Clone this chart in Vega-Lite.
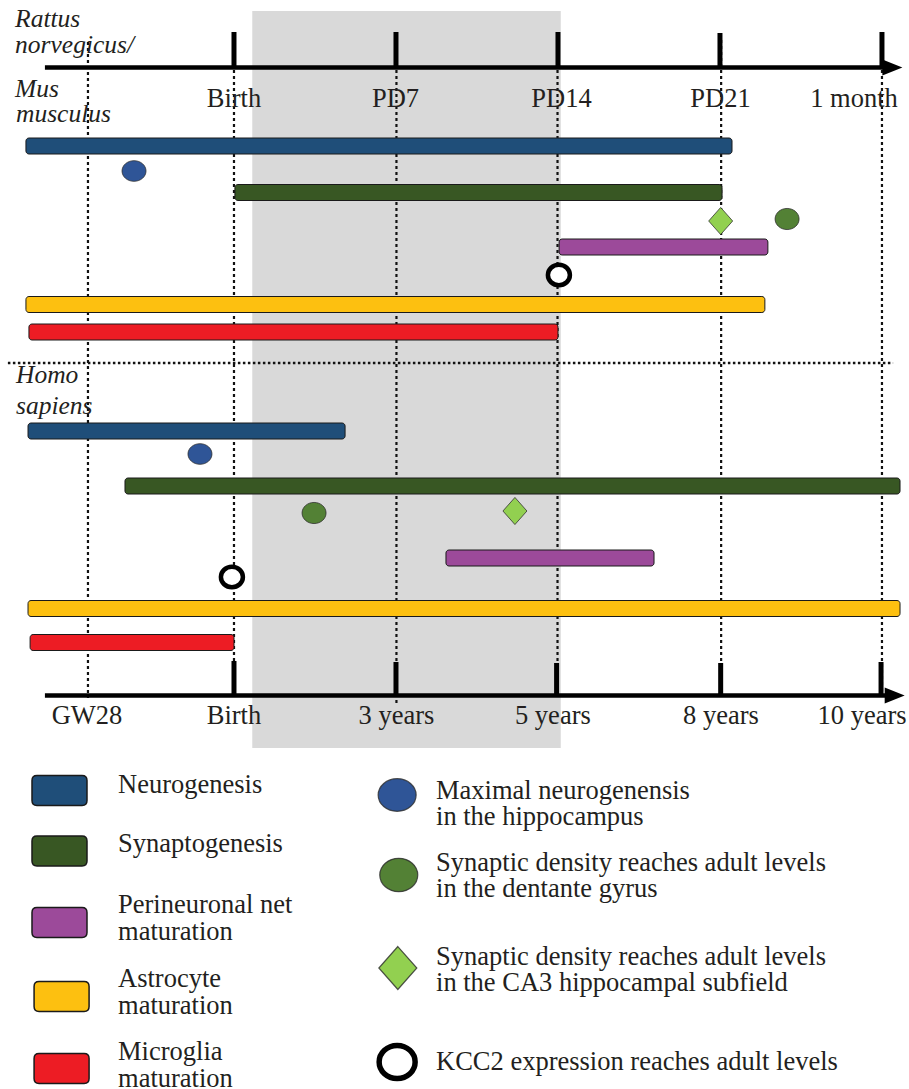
{
  "$schema": "https://vega.github.io/schema/vega-lite/v6.json",
  "width": 909,
  "height": 1089,
  "autosize": "none",
  "padding": 0,
  "background": "white",
  "config": {"view": {"stroke": null}, "scale": {"continuousPadding": 0}},
  "datasets": {
    "band": [{"start": 0.79, "end": 14.12, "top": 11, "bottom": 748}],
    "guides": [
      {"t": -6.31, "top": 42, "bottom": 698},
      {"t": 0, "top": 40, "bottom": 698},
      {"t": 7.02, "top": 40, "bottom": 703},
      {"t": 13.98, "top": 40, "bottom": 698},
      {"t": 21.05, "top": 40, "bottom": 698},
      {"t": 28.0, "top": 40, "bottom": 698}
    ],
    "divider": [{"start": -9.77, "end": 28.48, "row": 363}],
    "axes": [
      {"axis": "Rattus/Mus", "start": -8.17, "end": 28.2, "row": 67.5, "arrowT": 28.45},
      {"axis": "Homo", "start": -8.17, "end": 28.3, "row": 695.5, "arrowT": 28.55}
    ],
    "ticks": [
      {"axis": "Rattus/Mus", "tick": true, "t": 0, "labelT": 0, "label": "Birth", "tickTop": 32, "axisRow": 67.5, "labelRow": 107},
      {"axis": "Rattus/Mus", "tick": true, "t": 7, "labelT": 6.98, "label": "PD7", "tickTop": 32, "axisRow": 67.5, "labelRow": 107},
      {"axis": "Rattus/Mus", "tick": true, "t": 14, "labelT": 14.15, "label": "PD14", "tickTop": 32, "axisRow": 67.5, "labelRow": 107},
      {"axis": "Rattus/Mus", "tick": true, "t": 21, "labelT": 21.02, "label": "PD21", "tickTop": 33, "axisRow": 67.5, "labelRow": 107},
      {"axis": "Rattus/Mus", "tick": true, "t": 28, "labelT": 26.79, "label": "1 month", "tickTop": 32, "axisRow": 67.5, "labelRow": 107},
      {"axis": "Homo", "tick": false, "t": -6.31, "labelT": -6.35, "label": "GW28", "tickTop": 661, "axisRow": 695.5, "labelRow": 724},
      {"axis": "Homo", "tick": true, "t": 0, "labelT": 0, "label": "Birth", "tickTop": 661, "axisRow": 695.5, "labelRow": 724},
      {"axis": "Homo", "tick": true, "t": 7, "labelT": 7.02, "label": "3 years", "tickTop": 662, "axisRow": 695.5, "labelRow": 724},
      {"axis": "Homo", "tick": true, "t": 13.94, "labelT": 13.78, "label": "5 years", "tickTop": 663, "axisRow": 695.5, "labelRow": 724},
      {"axis": "Homo", "tick": true, "t": 21.03, "labelT": 21.04, "label": "8 years", "tickTop": 663, "axisRow": 695.5, "labelRow": 724},
      {"axis": "Homo", "tick": true, "t": 27.96, "labelT": 27.14, "label": "10 years", "tickTop": 662, "axisRow": 695.5, "labelRow": 724}
    ],
    "species": [
      {"text": "Rattus", "t": -9.46, "row": 27},
      {"text": "norvegicus/", "t": -9.46, "row": 53},
      {"text": "Mus", "t": -9.46, "row": 97},
      {"text": "musculus", "t": -9.42, "row": 122},
      {"text": "Homo", "t": -9.42, "row": 383},
      {"text": "sapiens", "t": -9.42, "row": 414}
    ],
    "bars": [
      {"species": "Mus", "process": "Neurogenesis", "start": -8.99, "end": 21.52, "row": 146},
      {"species": "Mus", "process": "Synaptogenesis", "start": 0.04, "end": 21.09, "row": 192.5},
      {"species": "Mus", "process": "Perineuronal net maturation", "start": 14.05, "end": 23.07, "row": 247},
      {"species": "Mus", "process": "Astrocyte maturation", "start": -8.99, "end": 22.94, "row": 304.5},
      {"species": "Mus", "process": "Microglia maturation", "start": -8.86, "end": 14.0, "row": 332},
      {"species": "Homo", "process": "Neurogenesis", "start": -8.9, "end": 4.8, "row": 431},
      {"species": "Homo", "process": "Synaptogenesis", "start": -4.71, "end": 28.78, "row": 486},
      {"species": "Homo", "process": "Perineuronal net maturation", "start": 9.16, "end": 18.15, "row": 558},
      {"species": "Homo", "process": "Astrocyte maturation", "start": -8.9, "end": 28.78, "row": 608.5},
      {"species": "Homo", "process": "Microglia maturation", "start": -8.81, "end": 0.0, "row": 642.5}
    ],
    "events": [
      {"species": "Mus", "event": "Maximal neurogenesis", "t": -4.32, "row": 171},
      {"species": "Mus", "event": "Synaptic density DG", "t": 23.9, "row": 219},
      {"species": "Mus", "event": "Synaptic density CA3", "t": 21.03, "row": 221},
      {"species": "Mus", "event": "KCC2", "t": 14.04, "row": 275},
      {"species": "Homo", "event": "Maximal neurogenesis", "t": -1.47, "row": 454},
      {"species": "Homo", "event": "Synaptic density DG", "t": 3.46, "row": 513},
      {"species": "Homo", "event": "Synaptic density CA3", "t": 12.14, "row": 511},
      {"species": "Homo", "event": "KCC2", "t": -0.09, "row": 577}
    ],
    "legendBars": [
      {"process": "Neurogenesis", "t": -7.54, "labelT": -5.01, "row": 790.5, "labelRow": 793, "label": "Neurogenesis"},
      {"process": "Synaptogenesis", "t": -7.54, "labelT": -5.01, "row": 851, "labelRow": 852, "label": "Synaptogenesis"},
      {"process": "Perineuronal net maturation", "t": -7.54, "labelT": -5.01, "row": 922.5, "labelRow": 913, "label": "Perineuronal net\nmaturation"},
      {"process": "Astrocyte maturation", "t": -7.45, "labelT": -5.01, "row": 996.5, "labelRow": 987, "label": "Astrocyte\nmaturation"},
      {"process": "Microglia maturation", "t": -7.45, "labelT": -5.01, "row": 1068.5, "labelRow": 1060, "label": "Microglia\nmaturation"}
    ],
    "legendEvents": [
      {"event": "Maximal neurogenesis", "t": 7.05, "labelT": 8.73, "row": 795, "labelRow": 799, "label": "Maximal neurogenensis\nin the hippocampus"},
      {"event": "Synaptic density DG", "t": 7.12, "labelT": 8.73, "row": 875, "labelRow": 871, "label": "Synaptic density reaches adult levels\nin the dentante gyrus"},
      {"event": "Synaptic density CA3", "t": 7.08, "labelT": 8.73, "row": 968, "labelRow": 965, "label": "Synaptic density reaches adult levels\nin the CA3 hippocampal subfield"},
      {"event": "KCC2", "t": 7.05, "labelT": 8.73, "row": 1062, "labelRow": 1070, "label": "KCC2 expression reaches adult levels"}
    ]
  },
  "layer": [
    {
      "data": {"name": "band"},
      "mark": {"type": "rect", "color": "#D9D9D9"},
      "encoding": {
        "x": {"field": "start", "type": "quantitative", "scale": {"domain": [-10.111, 29.168], "nice": false, "zero": false, "padding": 0}, "axis": null},
        "x2": {"field": "end"},
        "y": {"field": "top", "type": "quantitative", "scale": {"domain": [0, 1089], "nice": false, "zero": false, "reverse": true, "padding": 0}, "axis": null},
        "y2": {"field": "bottom"}
      }
    },
    {
      "data": {"name": "guides"},
      "mark": {"type": "rule", "color": "#111111", "strokeWidth": 2.2, "strokeDash": [3, 3]},
      "encoding": {
        "x": {"field": "t", "type": "quantitative", "scale": {"domain": [-10.111, 29.168], "nice": false, "zero": false, "padding": 0}, "axis": null},
        "y": {"field": "top", "type": "quantitative", "scale": {"domain": [0, 1089], "nice": false, "zero": false, "reverse": true, "padding": 0}, "axis": null},
        "y2": {"field": "bottom"}
      }
    },
    {
      "data": {"name": "divider"},
      "mark": {"type": "rule", "color": "#111111", "strokeWidth": 2.5, "strokeDash": [2.5, 2.5]},
      "encoding": {
        "x": {"field": "start", "type": "quantitative", "scale": {"domain": [-10.111, 29.168], "nice": false, "zero": false, "padding": 0}, "axis": null},
        "x2": {"field": "end"},
        "y": {"field": "row", "type": "quantitative", "scale": {"domain": [0, 1089], "nice": false, "zero": false, "reverse": true, "padding": 0}, "axis": null}
      }
    },
    {
      "data": {"name": "axes"},
      "mark": {"type": "rule", "color": "#000000", "strokeWidth": 4.5},
      "encoding": {
        "x": {"field": "start", "type": "quantitative", "scale": {"domain": [-10.111, 29.168], "nice": false, "zero": false, "padding": 0}, "axis": null},
        "x2": {"field": "end"},
        "y": {"field": "row", "type": "quantitative", "scale": {"domain": [0, 1089], "nice": false, "zero": false, "reverse": true, "padding": 0}, "axis": null}
      }
    },
    {
      "data": {"name": "ticks"},
      "transform": [{"filter": "datum.tick"}],
      "mark": {"type": "rule", "color": "#000000", "strokeWidth": 5},
      "encoding": {
        "x": {"field": "t", "type": "quantitative", "scale": {"domain": [-10.111, 29.168], "nice": false, "zero": false, "padding": 0}, "axis": null},
        "y": {"field": "tickTop", "type": "quantitative", "scale": {"domain": [0, 1089], "nice": false, "zero": false, "reverse": true, "padding": 0}, "axis": null},
        "y2": {"field": "axisRow"}
      }
    },
    {
      "data": {"name": "axes"},
      "mark": {"type": "point", "shape": "M-1,-0.8L1,0L-1,0.8Z", "filled": true, "color": "#000000", "opacity": 1, "size": 400},
      "encoding": {
        "x": {"field": "arrowT", "type": "quantitative", "scale": {"domain": [-10.111, 29.168], "nice": false, "zero": false, "padding": 0}, "axis": null},
        "y": {"field": "row", "type": "quantitative", "scale": {"domain": [0, 1089], "nice": false, "zero": false, "reverse": true, "padding": 0}, "axis": null}
      }
    },
    {
      "data": {"name": "ticks"},
      "mark": {"type": "text", "font": "Liberation Serif", "fontSize": 26.5, "color": "#231F20", "align": "center", "baseline": "alphabetic"},
      "encoding": {
        "x": {"field": "labelT", "type": "quantitative", "scale": {"domain": [-10.111, 29.168], "nice": false, "zero": false, "padding": 0}, "axis": null},
        "y": {"field": "labelRow", "type": "quantitative", "scale": {"domain": [0, 1089], "nice": false, "zero": false, "reverse": true, "padding": 0}, "axis": null},
        "text": {"field": "label", "type": "nominal"}
      }
    },
    {
      "data": {"name": "species"},
      "mark": {"type": "text", "font": "Liberation Serif", "fontStyle": "italic", "fontSize": 25.5, "color": "#231F20", "align": "left", "baseline": "alphabetic"},
      "encoding": {
        "x": {"field": "t", "type": "quantitative", "scale": {"domain": [-10.111, 29.168], "nice": false, "zero": false, "padding": 0}, "axis": null},
        "y": {"field": "row", "type": "quantitative", "scale": {"domain": [0, 1089], "nice": false, "zero": false, "reverse": true, "padding": 0}, "axis": null},
        "text": {"field": "text", "type": "nominal"}
      }
    },
    {
      "data": {"name": "bars"},
      "mark": {"type": "bar", "size": 16, "cornerRadius": 3, "stroke": "#1A1A1A", "strokeWidth": 1},
      "encoding": {
        "x": {"field": "start", "type": "quantitative", "scale": {"domain": [-10.111, 29.168], "nice": false, "zero": false, "padding": 0}, "axis": null},
        "x2": {"field": "end"},
        "y": {"field": "row", "type": "quantitative", "scale": {"domain": [0, 1089], "nice": false, "zero": false, "reverse": true, "padding": 0}, "axis": null},
        "color": {"field": "process", "type": "nominal", "legend": null, "scale": {"domain": ["Neurogenesis", "Synaptogenesis", "Perineuronal net maturation", "Astrocyte maturation", "Microglia maturation"], "range": ["#1F4E79", "#385723", "#9C4A9A", "#FDC010", "#ED1C24"]}}
      }
    },
    {
      "data": {"name": "events"},
      "transform": [{"filter": "datum.event !== 'KCC2'"}],
      "mark": {"type": "point", "filled": true, "opacity": 1, "size": 576, "stroke": "#2A2A2A", "strokeWidth": 1, "strokeOpacity": 0.75},
      "encoding": {
        "x": {"field": "t", "type": "quantitative", "scale": {"domain": [-10.111, 29.168], "nice": false, "zero": false, "padding": 0}, "axis": null},
        "y": {"field": "row", "type": "quantitative", "scale": {"domain": [0, 1089], "nice": false, "zero": false, "reverse": true, "padding": 0}, "axis": null},
        "fill": {"field": "event", "type": "nominal", "legend": null, "scale": {"domain": ["Maximal neurogenesis", "Synaptic density DG", "Synaptic density CA3"], "range": ["#2F5597", "#538135", "#92D050"]}},
        "shape": {"field": "event", "type": "nominal", "legend": null, "scale": {"domain": ["Maximal neurogenesis", "Synaptic density DG", "Synaptic density CA3"], "range": ["M-1,0A1,0.86 0 1,1 1,0A1,0.86 0 1,1 -1,0Z", "M-1,0A1,0.88 0 1,1 1,0A1,0.88 0 1,1 -1,0Z", "M0,-1.13L1,0L0,1.13L-1,0Z"]}}
      }
    },
    {
      "data": {"name": "events"},
      "transform": [{"filter": "datum.event === 'KCC2'"}],
      "mark": {"type": "point", "shape": "M-1,0A1,0.93 0 1,1 1,0A1,0.93 0 1,1 -1,0Z", "filled": true, "fill": "#FFFFFF", "opacity": 1, "size": 484, "stroke": "#000000", "strokeWidth": 4.5},
      "encoding": {
        "x": {"field": "t", "type": "quantitative", "scale": {"domain": [-10.111, 29.168], "nice": false, "zero": false, "padding": 0}, "axis": null},
        "y": {"field": "row", "type": "quantitative", "scale": {"domain": [0, 1089], "nice": false, "zero": false, "reverse": true, "padding": 0}, "axis": null}
      }
    },
    {
      "data": {"name": "legendBars"},
      "mark": {"type": "point", "shape": "M-0.82,-0.545L0.82,-0.545Q1,-0.545 1,-0.365L1,0.365Q1,0.545 0.82,0.545L-0.82,0.545Q-1,0.545 -1,0.365L-1,-0.365Q-1,-0.545 -0.82,-0.545Z", "filled": true, "opacity": 1, "size": 3025, "stroke": "#1A1A1A", "strokeWidth": 1.5},
      "encoding": {
        "x": {"field": "t", "type": "quantitative", "scale": {"domain": [-10.111, 29.168], "nice": false, "zero": false, "padding": 0}, "axis": null},
        "y": {"field": "row", "type": "quantitative", "scale": {"domain": [0, 1089], "nice": false, "zero": false, "reverse": true, "padding": 0}, "axis": null},
        "color": {"field": "process", "type": "nominal", "legend": null, "scale": {"domain": ["Neurogenesis", "Synaptogenesis", "Perineuronal net maturation", "Astrocyte maturation", "Microglia maturation"], "range": ["#1F4E79", "#385723", "#9C4A9A", "#FDC010", "#ED1C24"]}}
      }
    },
    {
      "data": {"name": "legendBars"},
      "mark": {"type": "text", "font": "Liberation Serif", "fontSize": 26.5, "color": "#231F20", "align": "left", "baseline": "alphabetic", "lineBreak": "\n", "lineHeight": 27},
      "encoding": {
        "x": {"field": "labelT", "type": "quantitative", "scale": {"domain": [-10.111, 29.168], "nice": false, "zero": false, "padding": 0}, "axis": null},
        "y": {"field": "labelRow", "type": "quantitative", "scale": {"domain": [0, 1089], "nice": false, "zero": false, "reverse": true, "padding": 0}, "axis": null},
        "text": {"field": "label", "type": "nominal"}
      }
    },
    {
      "data": {"name": "legendEvents"},
      "transform": [{"filter": "datum.event !== 'KCC2'"}],
      "mark": {"type": "point", "filled": true, "opacity": 1, "size": 1444, "stroke": "#2A2A2A", "strokeWidth": 1.2, "strokeOpacity": 0.8},
      "encoding": {
        "x": {"field": "t", "type": "quantitative", "scale": {"domain": [-10.111, 29.168], "nice": false, "zero": false, "padding": 0}, "axis": null},
        "y": {"field": "row", "type": "quantitative", "scale": {"domain": [0, 1089], "nice": false, "zero": false, "reverse": true, "padding": 0}, "axis": null},
        "fill": {"field": "event", "type": "nominal", "legend": null, "scale": {"domain": ["Maximal neurogenesis", "Synaptic density DG", "Synaptic density CA3"], "range": ["#2F5597", "#538135", "#92D050"]}},
        "shape": {"field": "event", "type": "nominal", "legend": null, "scale": {"domain": ["Maximal neurogenesis", "Synaptic density DG", "Synaptic density CA3"], "range": ["M-1,0A1,0.92 0 1,1 1,0A1,0.92 0 1,1 -1,0Z", "M-1,0A1,0.88 0 1,1 1,0A1,0.88 0 1,1 -1,0Z", "M0,-0.95L1.05,0L0,0.95L-1.05,0Z"]}}
      }
    },
    {
      "data": {"name": "legendEvents"},
      "transform": [{"filter": "datum.event === 'KCC2'"}],
      "mark": {"type": "point", "shape": "M-1,0A1,0.92 0 1,1 1,0A1,0.92 0 1,1 -1,0Z", "filled": true, "fill": "#FFFFFF", "opacity": 1, "size": 1296, "stroke": "#000000", "strokeWidth": 5.5},
      "encoding": {
        "x": {"field": "t", "type": "quantitative", "scale": {"domain": [-10.111, 29.168], "nice": false, "zero": false, "padding": 0}, "axis": null},
        "y": {"field": "row", "type": "quantitative", "scale": {"domain": [0, 1089], "nice": false, "zero": false, "reverse": true, "padding": 0}, "axis": null}
      }
    },
    {
      "data": {"name": "legendEvents"},
      "mark": {"type": "text", "font": "Liberation Serif", "fontSize": 26.5, "color": "#231F20", "align": "left", "baseline": "alphabetic", "lineBreak": "\n", "lineHeight": 26},
      "encoding": {
        "x": {"field": "labelT", "type": "quantitative", "scale": {"domain": [-10.111, 29.168], "nice": false, "zero": false, "padding": 0}, "axis": null},
        "y": {"field": "labelRow", "type": "quantitative", "scale": {"domain": [0, 1089], "nice": false, "zero": false, "reverse": true, "padding": 0}, "axis": null},
        "text": {"field": "label", "type": "nominal"}
      }
    }
  ]
}
